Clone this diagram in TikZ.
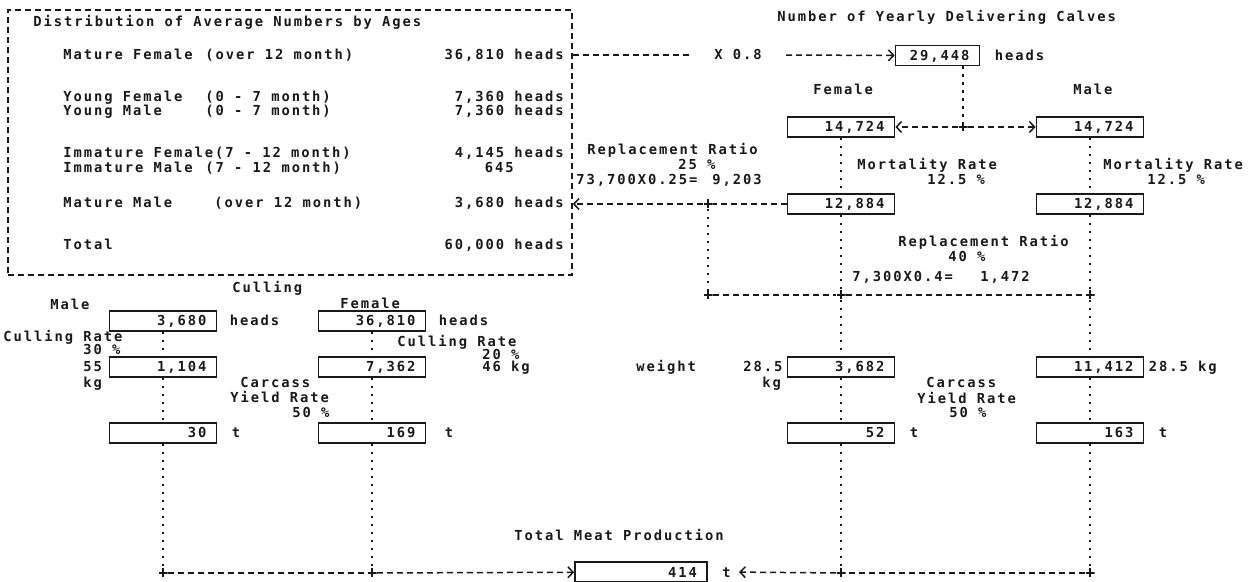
\documentclass[tikz,border=0pt]{standalone}
\usepackage{fontspec}
\setmonofont[LetterSpace=14]{DejaVu Sans Mono}
\usetikzlibrary{
    arrows.meta,
    positioning
}
\definecolor{ink}{RGB}{25,25,25}
\newcommand{\plotfont}{\ttfamily\bfseries\fontsize{6.9}{8}\selectfont}
\tikzset{
    line cap=round,
    txt/.style={
        anchor=west,
        inner sep=0pt,
        text height=5pt,
        text depth=0pt,
        text=ink
    },
    numbox/.style={
        draw=ink,
        line width=0.9pt,
        text width=#1,
        align=right,
        inner xsep=5pt,
        inner ysep=0pt,
        minimum height=10pt,
        text height=5pt,
        text depth=0pt,
        text=ink
    },
    numbox/.default=43.5pt,
    distframe/.style={
        draw=ink,
        line width=0.8pt,
        dash pattern=on 3pt off 2pt,
        minimum width=282pt,
        minimum height=132.5pt
    },
    junc/.style={
        inner sep=0pt,
        minimum size=4.5pt,
        path picture={
            \draw[ink, line width=0.9pt]
                (path picture bounding box.north) -- (path picture bounding box.south)
                (path picture bounding box.west) -- (path picture bounding box.east);
        }
    },
    hflow/.style={
        draw=ink,
        line width=0.75pt,
        dash pattern=on 3pt off 2pt
    },
    vflow/.style={
        draw=ink,
        line width=0.85pt,
        dash pattern=on 1.3pt off 2.7pt
    },
    into/.style={
        hflow,
        -{Straight Barb[length=2.6pt, width=5.5pt]}
    }
}

\begin{document}
\begin{tikzpicture}[
    x=0.5pt, y=-0.5pt,
    every node/.style={font=\plotfont}
]
\useasboundingbox (0,0) rectangle (1259,582);

% Distribution of average numbers
\node[distframe] (dist) at (290,142.5) {};
\node[txt] (ttl) at (33,22) {Distribution of Average Numbers by Ages};

\node[txt] (mfl) at (63,55) {Mature Female};
\node[txt] (mfa) at (205,55) {(over 12 month)};
\node[txt, anchor=east] (mfn) at (564,55) {36,810 heads};

\node[txt] (yfl) at (63,97) {Young Female};
\node[txt] (yfa) at (205,97) {(0 - 7 month)};
\node[txt, anchor=east] (yfn) at (564,97) {7,360 heads};
\node[txt] (yml) at (63,111) {Young Male};
\node[txt] (yma) at (205,111) {(0 - 7 month)};
\node[txt, anchor=east] (ymn) at (564,111) {7,360 heads};

\node[txt] (ifl) at (63,153) {Immature Female(7 - 12 month)};
\node[txt, anchor=east] (ifn) at (564,153) {4,145 heads};
\node[txt] (iml) at (63,168) {Immature Male};
\node[txt] (ima) at (205,168) {(7 - 12 month)};
\node[txt, anchor=east] (imn) at (514,168) {645};

\node[txt] (mml) at (63,203) {Mature Male};
\node[txt] (mma) at (214,203) {(over 12 month)};
\node[txt, anchor=east] (mmn) at (564,203) {3,680 heads};

\node[txt] (tol) at (63,245) {Total};
\node[txt, anchor=east] (ton) at (564,245) {60,000 heads};

% Yearly calves
\node[txt] (nyc) at (777,17) {Number of Yearly Delivering Calves};
\node[txt, anchor=center, inner xsep=12pt] (x08) at (738,55) {X 0.8};
\node[numbox=32pt] (yc) at (937.5,55.5) {29,448};
\node[txt, right=7pt of yc] (ych) {heads};

\node[txt] (fem) at (813,90) {Female};
\node[txt] (mal) at (1073,90) {Male};
\node[numbox] (f14) at (841,127) {14,724};
\node[numbox] (m14) at (1090,127) {14,724};
\node[junc] (jc) at (963,127) {};

\node[txt] (mrl) at (857,165) {Mortality Rate};
\node[txt] (mrlp) at (927,180) {12.5 \%};
\node[txt] (mrr) at (1103,165) {Mortality Rate};
\node[txt] (mrrp) at (1147,180) {12.5 \%};
\node[numbox] (f12) at (841,204) {12,884};
\node[numbox] (m12) at (1090,204) {12,884};

\node[txt] (rrf) at (587,150) {Replacement Ratio};
\node[txt] (rrfp) at (678,165) {25 \%};
\node[txt] (rrfc) at (576,180) {73,700X0.25=};
\node[txt] (rrfn) at (712,180) {9,203};
\node[junc] (jr) at (708,204) {};

\node[txt] (rrm) at (898,242) {Replacement Ratio};
\node[txt] (rrmp) at (948,257) {40 \%};
\node[txt] (rrmc) at (852,277) {7,300X0.4=};
\node[txt] (rrmn) at (980,277) {1,472};
\node[junc] (jr2) at (708,295) {};
\node[junc] (jl2) at (841,295) {};
\node[junc] (jm2) at (1090,295) {};

% Calves meat
\node[txt] (wgt) at (636,367) {weight};
\node[txt] (wfn) at (743,367) {28.5};
\node[txt] (wfu) at (762,383) {kg};
\node[numbox] (fw) at (841,367) {3,682};
\node[numbox] (mw) at (1090,367) {11,412};
\node[txt, right=2pt of mw] (wmn) {28.5 kg};
\node[txt] (cyc) at (926,383) {Carcass};
\node[txt] (cyy) at (917,399) {Yield Rate};
\node[txt] (cyp) at (949,413) {50 \%};
\node[numbox] (ft) at (841,433) {52};
\node[txt, right=7pt of ft] (ftu) {t};
\node[numbox] (mt) at (1090,433) {163};
\node[txt, right=7pt of mt] (mtu) {t};

% Culling
\node[txt] (cul) at (232,288) {Culling};
\node[txt] (malc) at (50,305) {Male};
\node[numbox] (c3680) at (163,321) {3,680};
\node[txt, right=6pt of c3680] (hd1) {heads};
\node[txt] (femc) at (340,304) {Female};
\node[numbox] (c36810) at (372,321) {36,810};
\node[txt, right=6pt of c36810] (hd2) {heads};

\node[txt] (crm) at (3,337) {Culling Rate};
\node[txt] (crmp) at (83,350) {30 \%};
\node[txt] (crmw) at (83,367) {55};
\node[numbox] (c1104) at (163,367) {1,104};
\node[txt] (crmu) at (83,383) {kg};
\node[txt] (crf) at (397,342) {Culling Rate};
\node[txt] (crfp) at (482,355) {20 \%};
\node[numbox] (c7362) at (372,367) {7,362};
\node[txt] (crfw) at (482,367) {46 kg};

\node[txt] (cyc2) at (240,383) {Carcass};
\node[txt] (cyy2) at (230,398) {Yield Rate};
\node[txt] (cyp2) at (292,413) {50 \%};
\node[numbox] (c30) at (163,433) {30};
\node[txt, right=7pt of c30] (c30u) {t};
\node[numbox] (c169) at (372,433) {169};
\node[txt, right=9pt of c169] (c169u) {t};

% Total
\node[txt] (tmp) at (514,536) {Total Meat Production};
\node[numbox=56pt] (tot) at (641,572) {414};
\node[txt, inner xsep=4pt] (tt) at (714,572) {t};
\node[junc] (ja) at (163,573) {};
\node[junc] (jb) at (372,573) {};
\node[junc] (jl3) at (841,573) {};
\node[junc] (jm3) at (1090,573) {};

% Connectors
\coordinate (mfout) at (dist.east |- x08);
\coordinate (ycout) at (yc.south -| jc);
\coordinate (mmin) at (dist.east |- jr);
\draw[hflow] (mfout) -- (x08);
\draw[into] (x08) -- (yc);
\draw[vflow] (ycout) -- (jc);
\draw[into] (jc) -- (f14);
\draw[into] (jc) -- (m14);

\draw[vflow] (f14) -- (f12) -- (jl2) -- (fw) -- (ft) -- (jl3);
\draw[vflow] (m14) -- (m12) -- (jm2) -- (mw) -- (mt) -- (jm3);
\draw[hflow] (f12) -- (jr);
\draw[into] (jr) -- (mmin);
\draw[vflow] (jr) -- (jr2);
\draw[hflow] (jr2) -- (jl2) -- (jm2);

\draw[vflow] (c3680) -- (c1104) -- (c30) -- (ja);
\draw[vflow] (c36810) -- (c7362) -- (c169) -- (jb);
\draw[hflow] (ja) -- (jb);
\draw[into] (jb) -- (tot);
\draw[hflow] (jm3) -- (jl3);
\draw[into] (jl3) -- (tt);

\end{tikzpicture}
\end{document}
